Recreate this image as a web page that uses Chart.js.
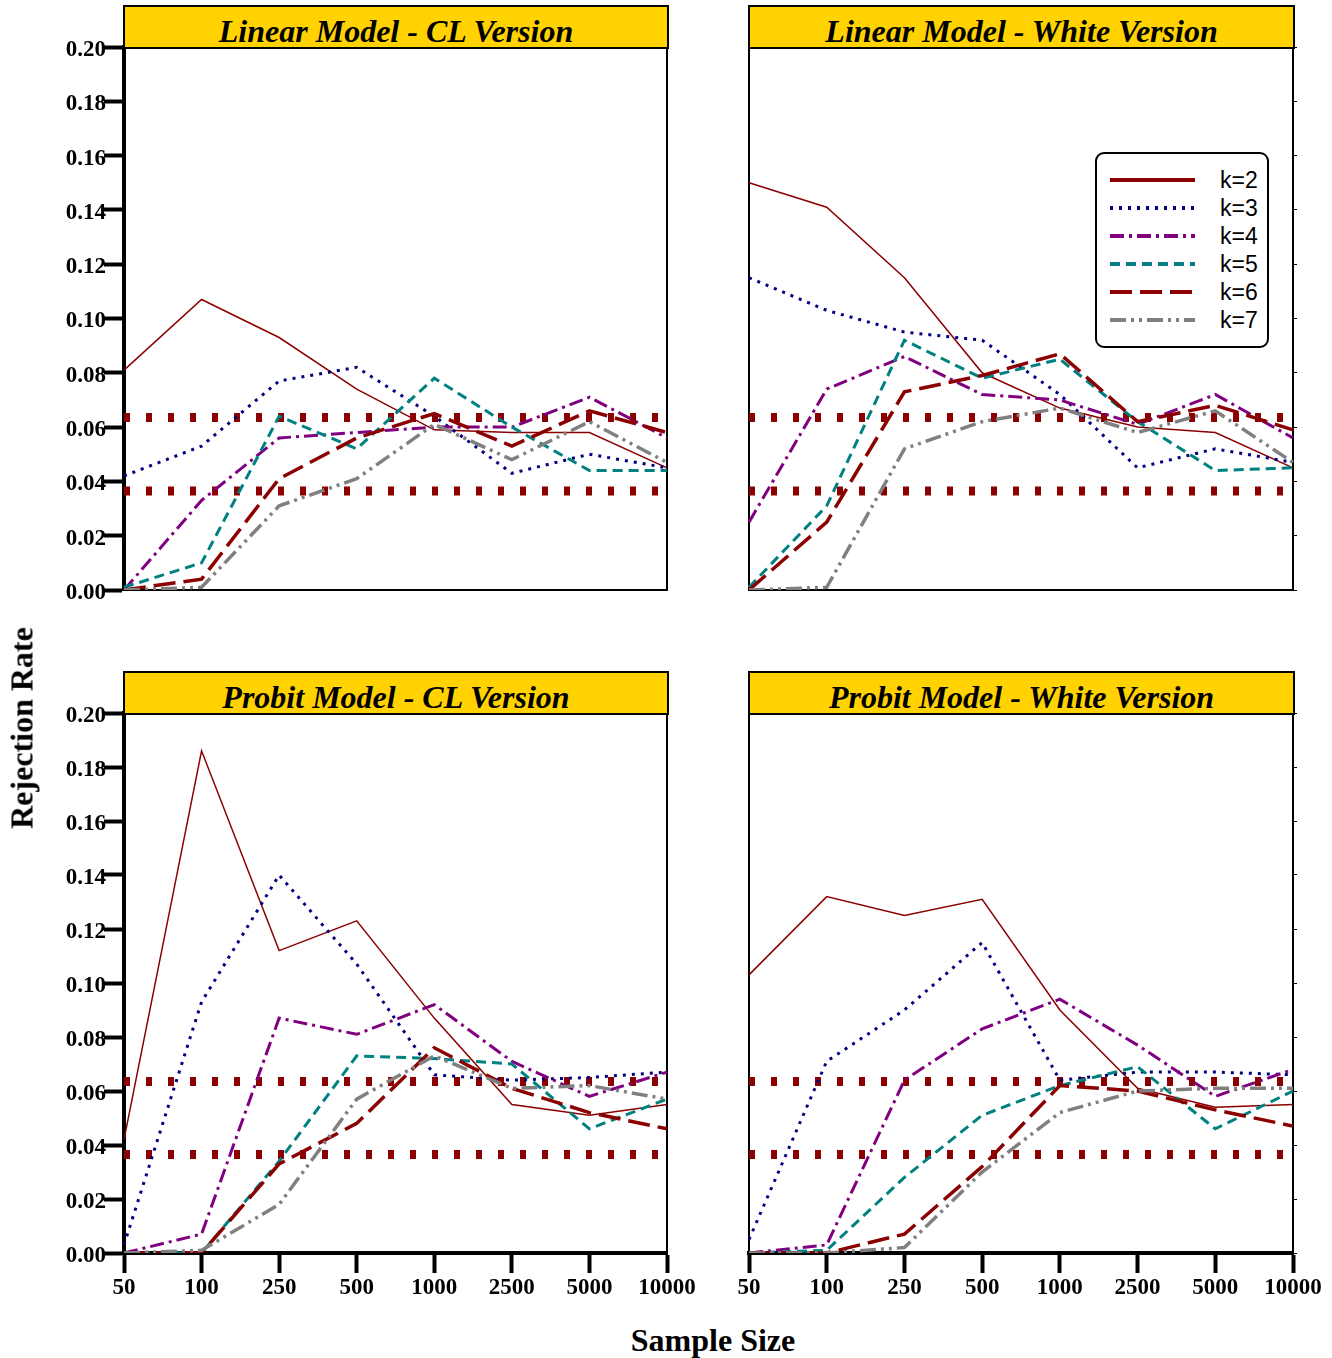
<!DOCTYPE html>
<html lang="en">
<head>
<meta charset="UTF-8">
<title>Rejection Rate by Sample Size</title>
<script src="https://cdn.jsdelivr.net/npm/chart.js"></script>
<style>
  body { margin: 0; background: #fff; width: 1332px; height: 1358px; position: relative; overflow: hidden; }
  canvas { position: absolute; }
  .strip {
    position: absolute; box-sizing: border-box; height: 44px;
    background: rgb(255, 210, 0); border: 2px solid #000;
    font: italic bold 32px "Liberation Serif", serif;
    text-align: center; line-height: 40px; padding-top: 4px; z-index: 2;
  }
  .axis-title { position: absolute; font: bold 32px "Liberation Serif", serif; white-space: nowrap; }
  #ytitle { left: 22px; top: 728px; transform: translate(-50%, -50%) rotate(-90deg); }
  #xtitle { left: 713px; top: 1340px; transform: translate(-50%, -50%); }
  #legend {
    position: absolute; left: 1095px; top: 152px; width: 174px; height: 196px;
    box-sizing: border-box; border: 2px solid #000; border-radius: 9px;
    background: #fff; padding-top: 12px; z-index: 3;
  }
  .row { display: flex; align-items: center; height: 28px; }
  .row svg { margin-left: 13px; }
  .row span { margin-left: 25px; font: 23px "Liberation Sans", sans-serif; }
</style>
</head>
<body>

<canvas id="c1"></canvas>
<canvas id="c2"></canvas>
<canvas id="c3"></canvas>
<canvas id="c4"></canvas>

<div class="strip" style="left:123px; top:5px; width:546px;">Linear Model - CL Version</div>
<div class="strip" style="left:748px; top:5px; width:547px;">Linear Model - White Version</div>
<div class="strip" style="left:123px; top:671px; width:546px;">Probit Model - CL Version</div>
<div class="strip" style="left:748px; top:671px; width:547px;">Probit Model - White Version</div>

<div class="axis-title" id="ytitle">Rejection Rate</div>
<div class="axis-title" id="xtitle">Sample Size</div>
<div id="legend"></div>

<script>
// sample sizes (x categories) and series names
const sizes = ['50', '100', '250', '500', '1000', '2500', '5000', '10000'];
const kLabels = ['k=2', 'k=3', 'k=4', 'k=5', 'k=6', 'k=7'];
// the two dotted reference bands
const refLevels = [0.0635, 0.0365];

// rejection rates, one row per k (k=2 .. k=7)
const linearCL = [
  [0.081, 0.107, 0.093, 0.074, 0.059, 0.058, 0.058, 0.045],
  [0.042, 0.053, 0.077, 0.082, 0.064, 0.043, 0.050, 0.045],
  [0.000, 0.033, 0.056, 0.058, 0.060, 0.060, 0.071, 0.056],
  [0.001, 0.010, 0.064, 0.052, 0.078, 0.060, 0.044, 0.044],
  [0.000, 0.004, 0.041, 0.056, 0.065, 0.053, 0.066, 0.058],
  [0.000, 0.001, 0.031, 0.041, 0.061, 0.048, 0.062, 0.047]
];
const linearWhite = [
  [0.150, 0.141, 0.115, 0.080, 0.067, 0.060, 0.058, 0.045],
  [0.115, 0.103, 0.095, 0.092, 0.072, 0.045, 0.052, 0.047],
  [0.025, 0.074, 0.086, 0.072, 0.070, 0.061, 0.072, 0.056],
  [0.001, 0.031, 0.092, 0.078, 0.085, 0.062, 0.044, 0.045],
  [0.000, 0.025, 0.073, 0.079, 0.087, 0.062, 0.068, 0.059],
  [0.000, 0.001, 0.052, 0.062, 0.067, 0.058, 0.066, 0.047]
];
const probitCL = [
  [0.042, 0.186, 0.112, 0.123, 0.087, 0.055, 0.051, 0.055],
  [0.003, 0.093, 0.140, 0.107, 0.066, 0.064, 0.065, 0.067],
  [0.000, 0.007, 0.087, 0.081, 0.092, 0.071, 0.058, 0.067],
  [0.000, 0.000, 0.034, 0.073, 0.072, 0.070, 0.046, 0.057],
  [0.000, 0.000, 0.033, 0.048, 0.076, 0.061, 0.052, 0.046],
  [0.000, 0.001, 0.018, 0.057, 0.073, 0.061, 0.062, 0.057]
];
const probitWhite = [
  [0.103, 0.132, 0.125, 0.131, 0.090, 0.061, 0.054, 0.055],
  [0.005, 0.071, 0.090, 0.115, 0.064, 0.067, 0.067, 0.066],
  [0.000, 0.003, 0.064, 0.083, 0.094, 0.077, 0.058, 0.068],
  [0.000, 0.001, 0.028, 0.051, 0.062, 0.069, 0.046, 0.060],
  [0.000, 0.000, 0.007, 0.032, 0.062, 0.060, 0.053, 0.047],
  [0.000, 0.000, 0.002, 0.030, 0.052, 0.060, 0.061, 0.061]
];

// line styles per k
const colors = ['#8b0000', '#000080', '#800080', '#008080', '#8b0000', '#808080'];
const widths = [1.5, 3, 3, 3, 3.5, 3.5];
const dashes = [[], [3, 6], [14, 5, 3, 5], [10, 6], [22, 8], [16, 5, 3, 5, 3, 5]];
const legendWidths = [4, 4, 4, 4, 4, 4];

const tickFont = { family: '"Liberation Serif", serif', size: 23, weight: 'bold' };
const noPad = s => { s.paddingTop = 0; s.paddingBottom = 0; s.paddingLeft = 0; s.paddingRight = 0; };

function makePanel(id, rows, pos) {
  // pos: canvas box + where the plot area must sit
  const cv = document.getElementById(id);
  cv.width = pos.w; cv.height = pos.h;
  cv.style.left = pos.x + 'px'; cv.style.top = pos.y + 'px';

  const datasets = refLevels.map(v => ({
    data: sizes.map(() => v),
    borderColor: '#8b0000', borderWidth: 9, borderDash: [6, 16],
    borderCapStyle: 'butt', pointRadius: 0, order: 10
  }));
  rows.forEach((r, i) => datasets.push({
    label: kLabels[i], data: r,
    borderColor: colors[i], borderWidth: widths[i], borderDash: dashes[i],
    borderCapStyle: 'butt', pointRadius: 0, tension: 0, fill: false, order: 6 - i
  }));

  new Chart(cv, {
    type: 'line',
    data: { labels: sizes, datasets: datasets },
    options: {
      responsive: false, animation: false,
      layout: { padding: { top: pos.top, right: 0, left: 0, bottom: 0 } },
      plugins: { legend: { display: false }, tooltip: { enabled: false } },
      scales: {
        x: {
          offset: false,
          border: { display: true, color: '#000', width: pos.bottomAxis ? 4 : 2 },
          grid: { display: pos.bottomAxis, drawOnChartArea: false, tickLength: 20, tickWidth: 4, tickColor: '#000' },
          ticks: { display: pos.bottomAxis, color: '#000', font: tickFont, autoSkip: false, maxRotation: 0, padding: 1 },
          afterFit: s => { s.height = pos.xh; noPad(s); }
        },
        y: {
          min: 0, max: 0.2,
          border: { display: true, color: '#000', width: pos.leftAxis ? 4 : 2 },
          grid: { display: pos.leftAxis, drawOnChartArea: false, tickLength: 20, tickWidth: 4, tickColor: '#000' },
          ticks: { display: pos.leftAxis, stepSize: 0.02, color: '#000', font: tickFont, padding: -2, labelOffset: 3,
                   callback: v => v.toFixed(2) },
          afterFit: s => { s.width = pos.yw; noPad(s); }
        },
        y2: {
          position: 'right', min: 0, max: 0.2,
          border: { display: true, color: '#000', width: 2 },
          grid: { display: !pos.leftAxis, drawOnChartArea: false, tickLength: 4, tickWidth: 1, tickColor: '#000' },
          ticks: { display: false, stepSize: 0.02 },
          afterFit: s => { s.width = pos.rw; noPad(s); }
        }
      }
    }
  });
}

// top-left: plot area 124..667 x 47..590
makePanel('c1', linearCL,   { x: 0,   y: 0,   w: 700, h: 620, top: 47, xh: 30, yw: 124, rw: 33, leftAxis: true,  bottomAxis: false });
makePanel('c2', linearWhite,{ x: 700, y: 0,   w: 632, h: 620, top: 47, xh: 30, yw: 49,  rw: 39, leftAxis: false, bottomAxis: false });
makePanel('c3', probitCL,   { x: 0,   y: 660, w: 700, h: 650, top: 53, xh: 57, yw: 124, rw: 33, leftAxis: true,  bottomAxis: true });
makePanel('c4', probitWhite,{ x: 700, y: 660, w: 632, h: 650, top: 53, xh: 57, yw: 49,  rw: 39, leftAxis: false, bottomAxis: true });

// legend built from the same series styles
const lg = document.getElementById('legend');
kLabels.forEach((name, i) => {
  const row = document.createElement('div');
  row.className = 'row';
  const da = dashes[i].length ? dashes[i].join(' ') : 'none';
  row.innerHTML = '<svg width="85" height="8"><line x1="0" y1="4" x2="85" y2="4" stroke="' + colors[i] +
    '" stroke-width="' + legendWidths[i] + '" stroke-dasharray="' + da + '"/></svg><span>' + name + '</span>';
  lg.appendChild(row);
});
</script>
</body>
</html>
